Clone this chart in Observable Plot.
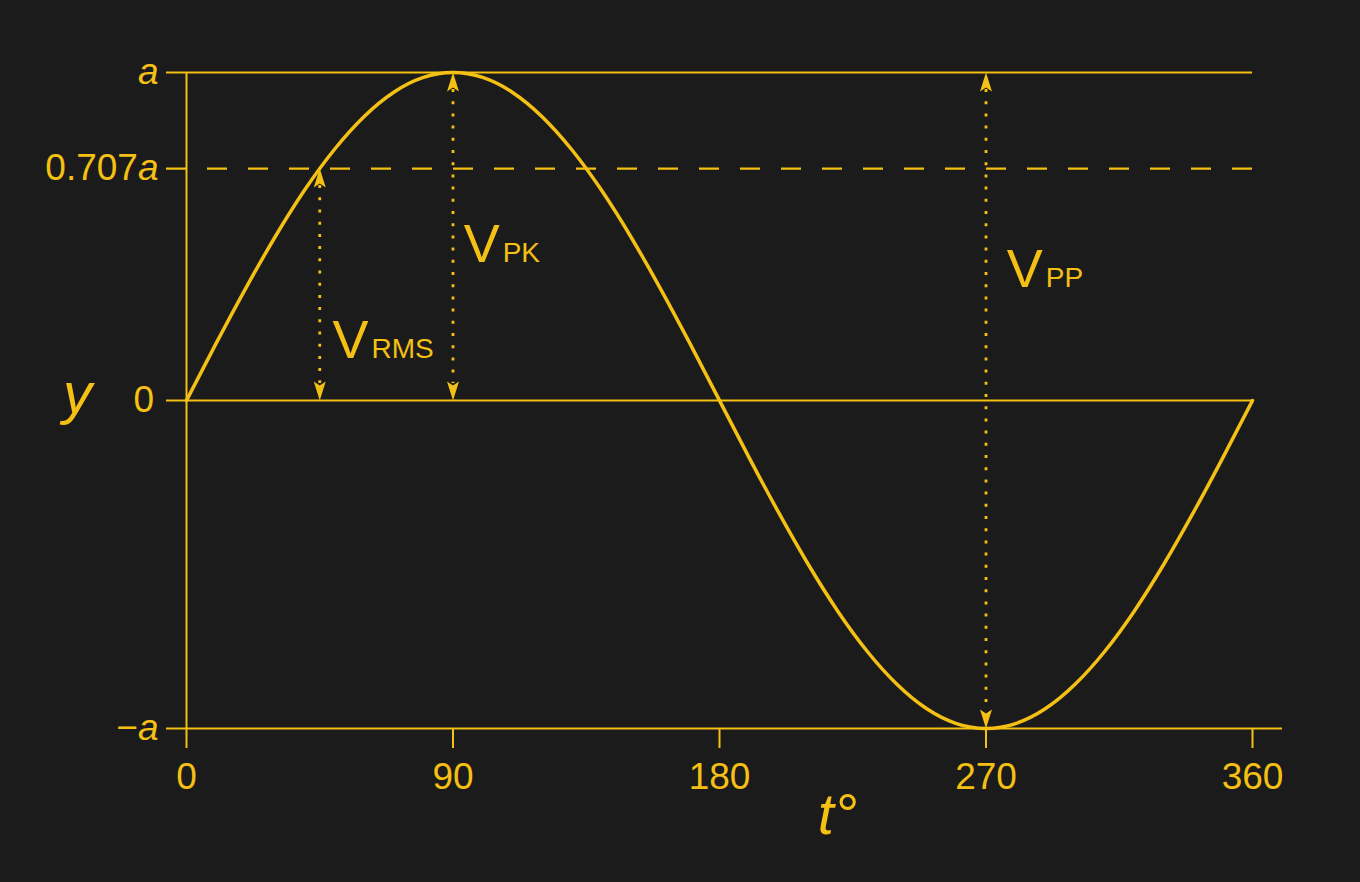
<!DOCTYPE html>
<html>
<head>
<meta charset="utf-8">
<script src="https://cdn.jsdelivr.net/npm/d3@7"></script>
<script src="https://cdn.jsdelivr.net/npm/@observablehq/plot@0.6"></script>
<style>
  html, body { margin: 0; padding: 0; background: #1b1b1b; }
  #chart { width: 1360px; height: 882px; }
</style>
</head>
<body>
<div id="chart"></div>
<script>
// ---- data ----
const angles = [0,10,20,30,40,50,60,70,80,90,100,110,120,130,140,150,160,170,180,
                190,200,210,220,230,240,250,260,270,280,290,300,310,320,330,340,350,360];
const values = [0,0.174,0.342,0.5,0.643,0.766,0.866,0.94,0.985,1,0.985,0.94,0.866,0.766,0.643,0.5,0.342,0.174,0,
                -0.174,-0.342,-0.5,-0.643,-0.766,-0.866,-0.94,-0.985,-1,-0.985,-0.94,-0.866,-0.766,-0.643,-0.5,-0.342,-0.174,0];

const xTicks = [0, 90, 180, 270, 360];
const yTickValues = [1, 0.707, 0, -1];
const yTickNumbers = ["", "0.707", "0", "\u2212"];
const yTickSymbols = ["a", "a", "", "a"];

const arrowNames = ["RMS", "PK", "PP"];
const arrowT = [45, 90, 270];
const arrowFrom = [0, 0, -1];
const arrowTo = [0.707, 1, 1];
const labelT = [49.3, 93.6, 277];
const labelY = [0.131, 0.421, 0.345];

// ---- styling ----
const gold = "#f4c013";
const font = "'Liberation Sans', Arial, sans-serif";

const headDown = {draw(ctx) { ctx.moveTo(0, 0); ctx.lineTo(-6, -19); ctx.lineTo(0, -15); ctx.lineTo(6, -19); ctx.closePath(); }};
const headUp = {draw(ctx) { ctx.moveTo(0, 0); ctx.lineTo(-6, 19); ctx.lineTo(0, 15); ctx.lineTo(6, 19); ctx.closePath(); }};

const curve = angles.map((t, i) => ({t, v: values[i]}));
const idx = arrowNames.map((d, i) => i);

const chart = Plot.plot({
  width: 1360,
  height: 882,
  marginLeft: 186,
  marginRight: 108,
  marginTop: 72,
  marginBottom: 154,
  x: {domain: [0, 360], axis: null},
  y: {domain: [-1, 1], axis: null},
  style: {background: "#1b1b1b", color: gold, fontFamily: font},
  marks: [
    // horizontal reference lines
    Plot.ruleY([1, 0], {x1: 0, x2: 360, insetLeft: -20, stroke: gold, strokeWidth: 2}),
    Plot.ruleY([0.707], {x1: 0, x2: 360, insetLeft: -20, stroke: gold, strokeWidth: 2.2, strokeDasharray: "20,21"}),
    Plot.ruleY([-1], {x1: 0, x2: 360, insetLeft: -20, insetRight: -30, stroke: gold, strokeWidth: 2}),
    // vertical axis line
    Plot.ruleX([0], {y1: -1, y2: 1, stroke: gold, strokeWidth: 2}),
    // x axis ticks + labels
    Plot.axisX({ticks: xTicks, tickSize: 20, tickPadding: 14, fontSize: 37, tickFormat: d => String(d),
                stroke: gold, fill: gold, strokeWidth: 2, label: null}),
    // y tick labels (number part + italic symbol)
    Plot.text(yTickValues, {x: 0, y: d => d, text: (d, i) => yTickSymbols[i], filter: (d, i) => yTickSymbols[i] !== "",
      textAnchor: "end", lineAnchor: "middle", dx: -28, fontSize: 37, fontStyle: "italic", fill: gold}),
    Plot.text(yTickValues, {x: 0, y: d => d, text: (d, i) => yTickNumbers[i], filter: (d, i) => yTickSymbols[i] !== "",
      textAnchor: "end", lineAnchor: "middle", dx: -48.6, fontSize: 37, fill: gold}),
    Plot.text(yTickValues, {x: 0, y: d => d, text: (d, i) => yTickNumbers[i], filter: (d, i) => yTickSymbols[i] === "",
      textAnchor: "end", lineAnchor: "middle", dx: -32.5, fontSize: 37, fill: gold}),
    // axis titles
    Plot.text(["y"], {x: 0, y: 0, text: d => d, dx: -109, dy: -6, textAnchor: "middle", lineAnchor: "middle",
      fontSize: 58, fontStyle: "italic", fill: gold}),
    Plot.text(["t\u00b0"], {x: 180, y: -1, text: d => d, dx: 118, dy: 105, textAnchor: "middle", lineAnchor: "bottom",
      fontSize: 58, fontStyle: "italic", fill: gold}),
    // sine curve
    Plot.line(curve, {x: "t", y: "v", curve: "natural", stroke: gold, strokeWidth: 3.5}),
    // arrows (dotted shafts between the heads)
    Plot.ruleX(idx, {x: i => arrowT[i], y1: i => arrowTo[i], y2: i => arrowFrom[i], insetTop: 17, insetBottom: 17,
      stroke: gold, strokeWidth: 2.8, strokeDasharray: "3,9.2"}),
    Plot.dot(idx, {x: i => arrowT[i], y: i => arrowTo[i], symbol: headUp, r: 3, fill: gold, stroke: "none"}),
    Plot.dot(idx, {x: i => arrowT[i], y: i => arrowFrom[i], symbol: headDown, r: 3, fill: gold, stroke: "none"}),
    // arrow labels
    Plot.text(idx, {x: i => labelT[i], y: i => labelY[i], text: () => "V", textAnchor: "start", lineAnchor: "bottom",
      fontSize: 54, fill: gold}),
    Plot.text(idx, {x: i => labelT[i], y: i => labelY[i], text: i => arrowNames[i], dx: 39, textAnchor: "start", lineAnchor: "bottom",
      fontSize: 28, fill: gold})
  ]
});
document.getElementById("chart").appendChild(chart);
</script>
</body>
</html>
